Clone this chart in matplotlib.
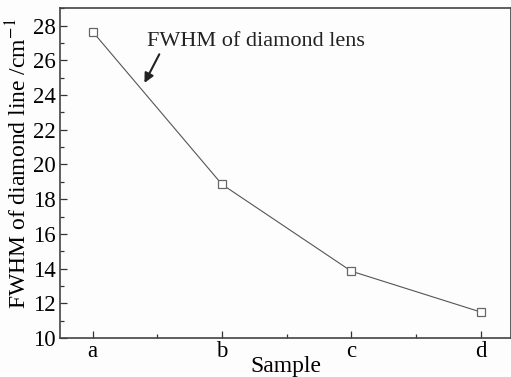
import matplotlib
matplotlib.use("Agg")
import matplotlib.pyplot as plt
from matplotlib.ticker import MultipleLocator

samples = ["a", "b", "c", "d"]
fwhm = [27.65, 18.85, 13.85, 11.5]
yticks = [10, 12, 14, 16, 18, 20, 22, 24, 26, 28]

plt.rcParams['font.family'] = ['Liberation Serif', 'DejaVu Serif']
plt.rcParams['mathtext.fontset'] = 'stix'

fig = plt.figure(figsize=(5.11, 3.77), dpi=100)
fig.patch.set_facecolor('#fdfdfd')
ax = fig.add_axes([60/511, 39/377, 451/511, 329.7/377])
ax.set_facecolor('#fdfdfd')

x = list(range(len(samples)))
ax.plot(x, fwhm, color='#555555', lw=0.8, marker='s', ms=6,
        mfc='white', mec='#666666', mew=0.9)

ax.set_xlim(-0.253, 3.235)
ax.set_ylim(10, 29.0)
ax.set_xticks(x)
ax.set_xticklabels(samples)
ax.set_yticks(yticks)
ax.xaxis.set_minor_locator(MultipleLocator(0.5))
ax.yaxis.set_minor_locator(MultipleLocator(1))
ax.tick_params(which='both', direction='in', labelsize=16.5, color='#333333')
ax.tick_params(which='major', length=5, width=0.9)
ax.tick_params(which='minor', length=3, width=0.9)
ax.tick_params(axis='x', pad=2)
ax.tick_params(axis='y', pad=3)
for s in ax.spines.values():
    s.set_color('#444444')
    s.set_linewidth(1.2)

ax.set_xlabel("Sample", fontsize=17, labelpad=-4)
ax.set_ylabel(r"FWHM of diamond line /cm$^{-1}$", fontsize=17, labelpad=1)
ax.yaxis.label.set_y(0.53)

ax.text(0.42, 26.8, "FWHM of diamond lens", fontsize=16, color='#222222')
ax.annotate('', xy=(0.40, 24.7), xytext=(0.515, 26.35),
            arrowprops=dict(arrowstyle='-|>', color='#222222', lw=1.5,
                            mutation_scale=14, shrinkA=0, shrinkB=0))

fig.savefig("out.png", dpi=100, facecolor=fig.get_facecolor())
